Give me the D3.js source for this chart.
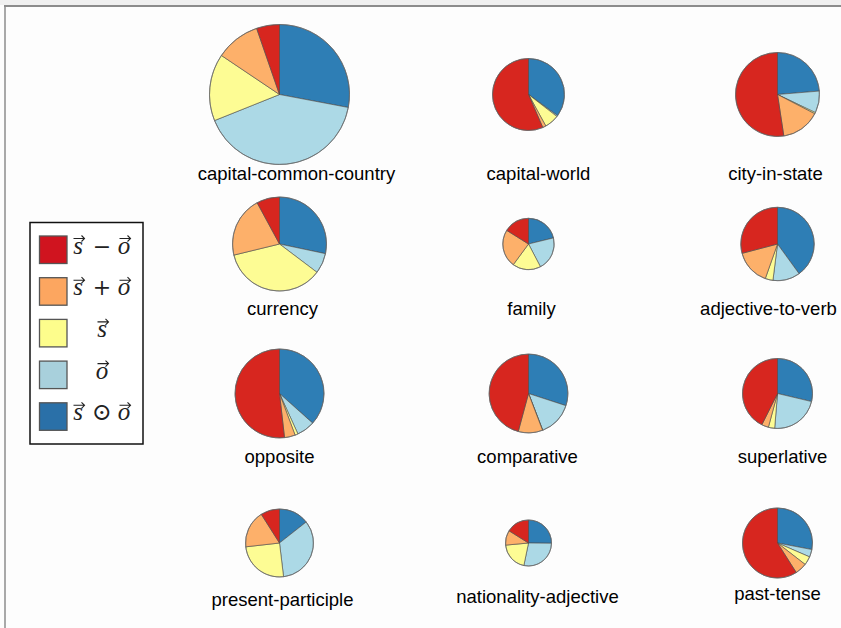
<!DOCTYPE html>
<html>
<head>
<meta charset="utf-8">
<script src="https://cdn.jsdelivr.net/npm/d3@7/dist/d3.min.js"></script>
<style>
  html, body { margin: 0; padding: 0; background: #ffffff; }
  svg { display: block; }
</style>
</head>
<body>
<svg id="chart" width="841" height="628"></svg>
<script>
// Relation types, one pie each (row by row)
const categories = [
  "capital-common-country", "capital-world", "city-in-state",
  "currency", "family", "adjective-to-verb",
  "opposite", "comparative", "superlative",
  "present-participle", "nationality-adjective", "past-tense"
];

// Share of each composition (percent) per relation type
const sMinusO = [5.3, 56.5, 52.4, 7.9, 16.1, 29.1, 51.8, 45.8, 42.6, 9.0, 16.1, 59.0];
const sPlusO  = [10.3, 1.5, 15.0, 20.9, 23.8, 15.5, 3.9, 10.0, 3.2, 17.8, 10.4, 5.5];
const sOnly   = [15.5, 6.5, 0.5, 35.9, 17.8, 3.4, 1.1, 0.1, 2.9, 25.1, 20.3, 4.0];
const oOnly   = [41.0, 0.5, 8.4, 7.0, 21.1, 12.0, 6.6, 14.1, 22.6, 33.7, 28.1, 3.5];
const sDotO   = [28.0, 35.0, 23.7, 28.3, 21.2, 40.0, 36.6, 30.0, 28.7, 14.4, 25.2, 28.0];

// Relative size of each relation type (pie area)
const totals = [4900, 1296, 1764, 2209, 660, 1347, 1980, 1552, 1225, 1156, 529, 1225];

// Legend entries, top to bottom
const seriesKeys = ["sMinusO", "sPlusO", "sOnly", "oOnly", "sDotO"];
const seriesTokens = [
  [{t: "s", vec: true}, {t: "\u2212"}, {t: "o", vec: true}],
  [{t: "s", vec: true}, {t: "+"}, {t: "o", vec: true}],
  [{t: "s", vec: true}],
  [{t: "o", vec: true}],
  [{t: "s", vec: true}, {t: "\u2299"}, {t: "o", vec: true}]
];
const seriesColors = ["#d7261f", "#fdb06a", "#fdfc94", "#acd9e6", "#2e7eb5"];
const legendFill = ["#d0141f", "#fca660", "#fdfd8c", "#a8d0dc", "#2a70a8"];

const seriesValues = {sMinusO, sPlusO, sOnly, oOnly, sDotO};

const svg = d3.select("#chart");

// frame
svg.append("rect").attr("x", 0).attr("y", 0).attr("width", 841).attr("height", 628).attr("fill", "#fdfdfd");
svg.append("rect").attr("x", 0).attr("y", 0).attr("width", 841).attr("height", 5).attr("fill", "#f0f0f0");
svg.append("line").attr("x1", 4).attr("x2", 841).attr("y1", 6).attr("y2", 6)
  .attr("stroke", "#8c8c8c").attr("stroke-width", 2);
svg.append("line").attr("x1", 5).attr("x2", 5).attr("y1", 6).attr("y2", 628)
  .attr("stroke", "#8c8c8c").attr("stroke-width", 1.5);

// grid of pies
const colX = d3.scaleLinear().domain([0, 2]).range([279.5, 777.5]);
const rowY = d3.scaleLinear().domain([0, 3]).range([94.5, 543]);
const labelY = [180, 315, 463, 606];
const labelDx = [[17, 10, -2], [3, 3, -9], [0, -1, 5], [3, 9, 0]];
const labelDy = [[0, 0, 0], [0, 0, 0], [0, 0, 0], [0, -3, -6]];
const radius = d3.scaleSqrt().domain([0, d3.max(totals)]).range([0, 70]);

// slices go clockwise from 12 o'clock: s⊙o, o, s, s+o, s−o
const pieOrder = [4, 3, 2, 1, 0];
const pie = d3.pie().sort(null).value(d => d.v).startAngle(0).endAngle(2 * Math.PI);

categories.forEach((name, i) => {
  const col = i % 3, row = Math.floor(i / 3);
  const cx = colX(col), cy = rowY(row);
  const r = radius(totals[i]);
  const slices = pieOrder.map(k => ({k, v: seriesValues[seriesKeys[k]][i]}));
  const arc = d3.arc().innerRadius(0).outerRadius(r);
  const g = svg.append("g").attr("transform", `translate(${cx},${cy})`);
  g.selectAll("path").data(pie(slices)).join("path")
    .attr("d", arc)
    .attr("fill", d => seriesColors[d.data.k])
    .attr("stroke", "#4a4a4a")
    .attr("stroke-opacity", 0.75)
    .attr("stroke-width", 0.8)
    .attr("stroke-linejoin", "round");
  g.append("circle").attr("r", r).attr("fill", "none")
    .attr("stroke", "#6a6a6a").attr("stroke-width", 1).attr("stroke-opacity", 0.7);

  svg.append("text")
    .attr("x", cx + labelDx[row][col])
    .attr("y", labelY[row] + labelDy[row][col])
    .attr("text-anchor", "middle")
    .attr("font-family", "'Liberation Sans', Arial, sans-serif")
    .attr("font-size", 18.5)
    .attr("fill", "#000")
    .text(name);
});

// legend
const lg = svg.append("g");
lg.append("rect").attr("x", 30).attr("y", 222.5).attr("width", 113).attr("height", 221.5)
  .attr("fill", "#ffffff").attr("stroke", "#111").attr("stroke-width", 1.5);

const rowStep = 41.7;
seriesKeys.forEach((key, j) => {
  const y0 = 236 + j * rowStep;
  lg.append("rect").attr("x", 39.5).attr("y", y0).attr("width", 27.5).attr("height", 27.5)
    .attr("fill", legendFill[j]).attr("stroke", "#555").attr("stroke-width", 1.3);

  const tokens = seriesTokens[j];
  const base = y0 + 17.5;
  const cxl = 102;
  const offs = tokens.length === 3 ? [-24, 0, 22] : [0];
  tokens.forEach((tk, m) => {
    const x = cxl + offs[m];
    const isOp = !tk.vec;
    lg.append("text")
      .attr("x", x).attr("y", base)
      .attr("text-anchor", "middle")
      .attr("font-family", isOp ? "'DejaVu Serif', serif" : "'Liberation Serif', 'DejaVu Serif', serif")
      .attr("font-style", isOp ? "normal" : "italic")
      .attr("font-size", isOp ? (tk.t === "\u2299" ? 24 : 22) : 25)
      .attr("fill", "#222")
      .text(tk.t);
    if (tk.vec) {
      const ax = x + 1, ay = base - 15;
      lg.append("path")
        .attr("d", `M${ax - 5.5},${ay} L${ax + 5.5},${ay} M${ax + 2.5},${ay - 3} L${ax + 5.5},${ay} L${ax + 2.5},${ay + 3}`)
        .attr("fill", "none").attr("stroke", "#222").attr("stroke-width", 1.1);
    }
  });
});
</script>
</body>
</html>
